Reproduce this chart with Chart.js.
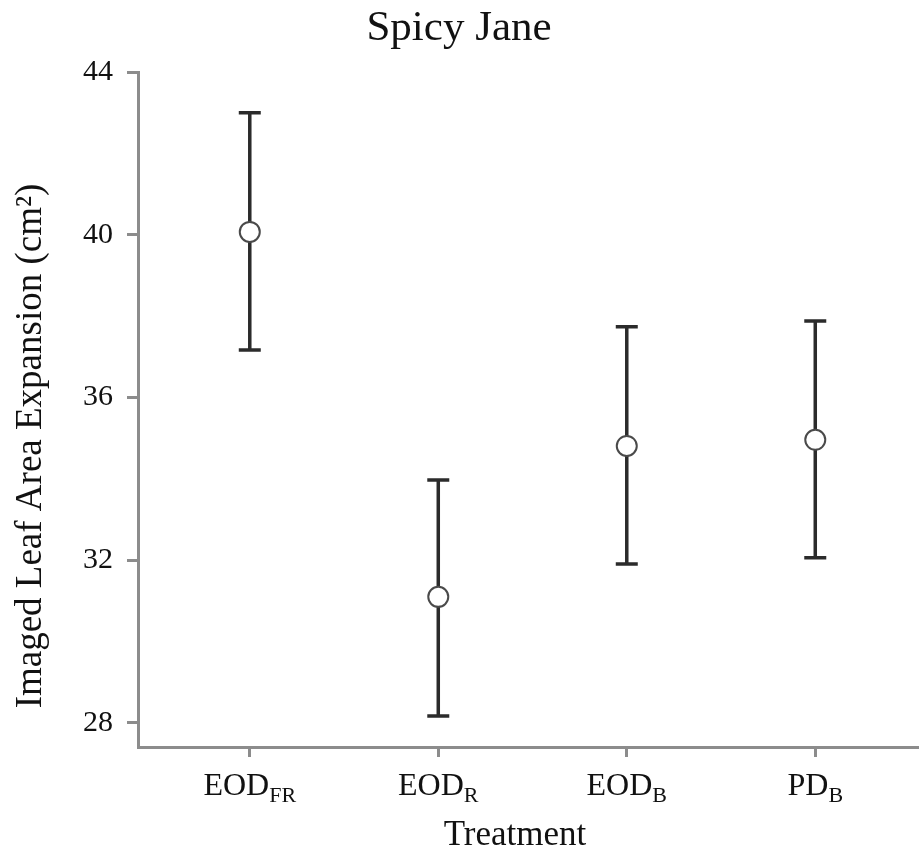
<!DOCTYPE html>
<html>
<head>
<meta charset="utf-8">
<script src="https://cdn.jsdelivr.net/npm/chart.js@4"></script>
<style>
  html, body { margin: 0; padding: 0; background: #fff; }
</style>
</head>
<body>
<canvas id="grafico" width="919" height="857"></canvas>
<script>
// Tratamientos (nombre + subíndice)
const tratamientos = ["EOD", "EOD", "EOD", "PD"];
const subindices = ["FR", "R", "B", "B"];

// Media y límites de la barra de error (cm²)
const medias = [40.07, 31.10, 34.81, 34.96];
const inferior = [37.17, 28.17, 31.91, 32.06];
const superior = [43.00, 33.97, 37.74, 37.88];

const ticksY = [28, 32, 36, 40, 44];

const fuente = "'Liberation Serif', 'DejaVu Serif', serif";
const colorEje = "#8c8c8c";

// Barras de error por detrás de los puntos
const barrasError = {
  id: "barrasError",
  beforeDatasetsDraw(chart) {
    const ctx = chart.ctx;
    const x = chart.scales.x, y = chart.scales.y;
    ctx.save();
    ctx.strokeStyle = "#2b2b2b";
    ctx.lineWidth = 3.5;
    medias.forEach((m, i) => {
      const px = x.getPixelForValue(i);
      const top = y.getPixelForValue(superior[i]);
      const bot = y.getPixelForValue(inferior[i]);
      ctx.beginPath();
      ctx.moveTo(px, top);
      ctx.lineTo(px, bot);
      ctx.moveTo(px - 11, top);
      ctx.lineTo(px + 11, top);
      ctx.moveTo(px - 11, bot);
      ctx.lineTo(px + 11, bot);
      ctx.stroke();
    });
    ctx.restore();
  }
};

// Etiquetas con subíndice y títulos de los ejes
const textos = {
  id: "textos",
  afterDraw(chart) {
    const ctx = chart.ctx;
    const x = chart.scales.x;
    ctx.save();
    ctx.fillStyle = "#111";
    ctx.textBaseline = "alphabetic";
    tratamientos.forEach((t, i) => {
      const px = x.getPixelForValue(i);
      ctx.font = "32px " + fuente;
      const w1 = ctx.measureText(t).width;
      ctx.font = "22px " + fuente;
      const w2 = ctx.measureText(subindices[i]).width;
      const x0 = px - (w1 + w2) / 2;
      ctx.font = "32px " + fuente;
      ctx.textAlign = "left";
      ctx.fillText(t, x0, 795);
      ctx.font = "22px " + fuente;
      ctx.fillText(subindices[i], x0 + w1, 802);
    });

    ctx.textAlign = "center";
    ctx.textBaseline = "middle";
    ctx.font = "35px " + fuente;
    ctx.fillText("Treatment", 515, 836);

    ctx.translate(31, 446);
    ctx.rotate(-Math.PI / 2);
    ctx.font = "37px " + fuente;
    ctx.fillText("Imaged Leaf Area Expansion (cm²)", 0, 0);
    ctx.restore();
  }
};

new Chart(document.getElementById("grafico").getContext("2d"), {
  type: "scatter",
  data: {
    datasets: [{
      data: medias.map((m, i) => ({ x: i, y: m })),
      pointRadius: 10,
      pointHoverRadius: 10,
      pointBackgroundColor: "#ffffff",
      pointBorderColor: "#4a4a4a",
      pointBorderWidth: 2
    }]
  },
  options: {
    responsive: false,
    animation: false,
    layout: { autoPadding: false, padding: { left: 0, right: 1, top: 0, bottom: 0 } },
    plugins: {
      legend: { display: false },
      tooltip: { enabled: false },
      title: {
        display: true,
        text: "Spicy Jane",
        color: "#111",
        font: { family: fuente, size: 43, weight: "normal" },
        padding: { top: 3, bottom: 17.4 }
      }
    },
    scales: {
      x: {
        type: "linear",
        min: -0.593,
        max: 3.545,
        afterBuildTicks: (s) => { s.ticks = tratamientos.map((_, i) => ({ value: i })); },
        afterFit: (s) => { s.height = 110; },
        ticks: { display: false },
        grid: { drawOnChartArea: false, drawTicks: true, tickLength: 10, color: colorEje, lineWidth: 3 },
        border: { display: true, color: colorEje, width: 3 }
      },
      y: {
        type: "linear",
        min: 27.41,
        max: 44,
        afterBuildTicks: (s) => { s.ticks = ticksY.map((v) => ({ value: v })); },
        afterFit: (s) => { s.width = 138; },
        ticks: {
          color: "#111",
          padding: 14,
          font: { family: fuente, size: 30 }
        },
        grid: { drawOnChartArea: false, drawTicks: true, tickLength: 11, color: colorEje, lineWidth: 3 },
        border: { display: true, color: colorEje, width: 3 }
      }
    }
  },
  plugins: [barrasError, textos]
});
</script>
</body>
</html>
